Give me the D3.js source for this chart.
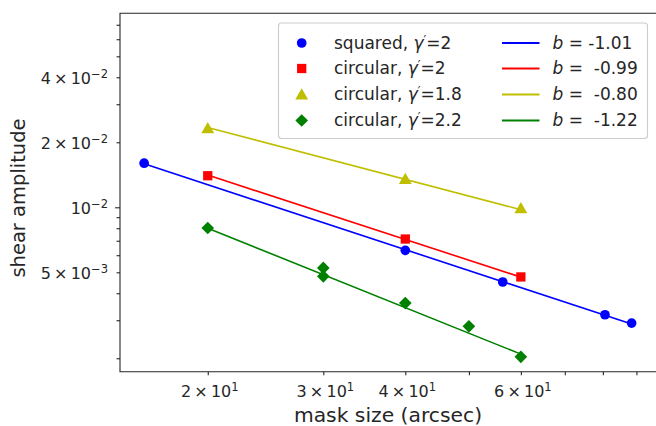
<!DOCTYPE html>
<meta charset="utf-8">
<style>
  body { margin: 0; background: #fff; }
  svg { font-family: "DejaVu Sans", sans-serif; }
  .spine { stroke: #262626; stroke-width: 1.1; fill: none; }
  .tick line { stroke: #262626; stroke-width: 1.1; }
  text { fill: #262626; white-space: pre; }
</style>
<body>
<script src="https://cdn.jsdelivr.net/npm/d3@7"></script>
<script>
  // measured points (mask size in arcsec, shear amplitude)
  var squaredX = [16, 40, 56.3, 80.6, 88.5];
  var squaredY = [0.0160, 0.00632, 0.00451, 0.00318, 0.00291];
  var circ20X = [20, 40, 60];
  var circ20Y = [0.0140, 0.00713, 0.00476];
  var circ18X = [20, 40, 60];
  var circ18Y = [0.0232, 0.01352, 0.00989];
  var circ22X = [20, 30, 30, 40, 50, 60];
  var circ22Y = [0.00802, 0.00524, 0.00479, 0.00360, 0.00281, 0.00203];

  // fitted power-law lines, end points
  var fitSquaredX = [16, 88.5], fitSquaredY = [0.0159, 0.00288];
  var fit20X = [20, 60], fit20Y = [0.0141, 0.00475];
  var fit18X = [20, 60], fit18Y = [0.0234, 0.00975];
  var fit22X = [20, 60], fit22Y = [0.0080, 0.00209];

  var seriesLabels = ["squared, ", "circular, ", "circular, ", "circular, "];
  var gammaValues = ["2", "2", "1.8", "2.2"];
  var slopeLabels = ["= -1.01", "=  -0.99", "=  -0.80", "=  -1.22"];

  var xTicks = [20, 30, 40, 50, 60, 70, 80, 90];
  var xLabeled = { 20: "2", 30: "3", 40: "4", 60: "6" };
  var yTicks = [0.002, 0.003, 0.004, 0.005, 0.006, 0.007, 0.008, 0.009, 0.01,
                0.02, 0.03, 0.04, 0.05, 0.06, 0.07];
  var yLabeled = { 0.005: ["5\u2009×\u200910", "−3"], 0.01: ["10", "−2"],
                   0.02: ["2\u2009×\u200910", "−2"], 0.04: ["4\u2009×\u200910", "−2"] };

  var W = 656, H = 426;
  var plotL = 120, plotR = 656, plotT = 13.3, plotB = 371.7;

  var x = d3.scaleLog().domain([14.7, 96.4]).range([plotL, plotR]);
  var y = d3.scaleLog().domain([0.001733, 0.0791]).range([plotB, plotT]);

  var colors = ["#0000ff", "#ff0000", "#bfbf00", "#008000"];
  var shapes = [d3.symbolCircle, d3.symbolSquare, d3.symbolTriangle, d3.symbolSquare];

  var svg = d3.select("body").append("svg").attr("width", W).attr("height", H);

  // ticks
  var xAxis = svg.append("g").attr("transform", "translate(0," + plotB + ")")
    .call(d3.axisBottom(x).tickValues(xTicks).tickFormat("").tickSizeOuter(0).tickSize(3.5));
  xAxis.select(".domain").remove();
  xAxis.selectAll(".tick text").remove();

  var yAxis = svg.append("g").attr("transform", "translate(" + plotL + ",0)")
    .call(d3.axisLeft(y).tickValues(yTicks).tickFormat("").tickSizeOuter(0).tickSize(3.5));
  yAxis.select(".domain").remove();
  yAxis.selectAll(".tick text").remove();
  yAxis.selectAll(".tick line").attr("x2", d => d === 0.01 ? -4.9 : -3.5);

  // tick labels
  xTicks.filter(d => xLabeled[d]).forEach(function (d) {
    var t = svg.append("text").attr("x", x(d) + 2).attr("y", 397)
      .attr("text-anchor", "middle").style("font-size", "16px");
    t.append("tspan").text(xLabeled[d] + "\u2009×\u200910");
    t.append("tspan").attr("dy", -6.5).style("font-size", "11.5px").text("1");
  });
  yTicks.filter(d => yLabeled[d]).forEach(function (d) {
    var t = svg.append("text").attr("x", 108).attr("y", y(d) + 7)
      .attr("text-anchor", "end").style("font-size", "16px");
    t.append("tspan").text(yLabeled[d][0]);
    t.append("tspan").attr("dy", -6.5).style("font-size", "11.5px").text(yLabeled[d][1]);
  });

  // spines
  svg.append("path").attr("class", "spine")
    .attr("d", "M" + plotR + "," + plotT + "H" + plotL + "V" + plotB + "H" + plotR);

  // axis labels
  svg.append("text").attr("x", (plotL + plotR) / 2).attr("y", 421.5)
    .attr("text-anchor", "middle").style("font-size", "20.3px").text("mask size (arcsec)");
  svg.append("text").attr("transform", "translate(25,198) rotate(-90)")
    .attr("text-anchor", "middle").style("font-size", "19.5px").text("shear amplitude");

  // fit lines
  var line = d3.line().x(d => x(d[0])).y(d => y(d[1]));
  var fits = [[fitSquaredX, fitSquaredY], [fit20X, fit20Y], [fit18X, fit18Y], [fit22X, fit22Y]];
  fits.forEach(function (f, i) {
    svg.append("path").datum(d3.zip(f[0], f[1])).attr("d", line)
      .attr("fill", "none").attr("stroke", colors[i]).attr("stroke-width", 1.6);
  });

  // markers
  var sizes = [74, 86, 72, 80];
  var pts = [[squaredX, squaredY], [circ20X, circ20Y], [circ18X, circ18Y], [circ22X, circ22Y]];
  function marker(g, i, px, py) {
    var off = i === 2 ? 1.2 : 0;
    g.append("path").attr("d", d3.symbol().type(shapes[i]).size(sizes[i])())
      .attr("transform", "translate(" + px + "," + (py + off) + ")" + (i === 3 ? " rotate(45)" : ""))
      .attr("fill", colors[i]);
  }
  pts.forEach(function (p, i) {
    d3.zip(p[0], p[1]).forEach(function (d) { marker(svg, i, x(d[0]), y(d[1])); });
  });

  // legend
  var leg = svg.append("g");
  leg.append("rect").attr("x", 278.5).attr("y", 23).attr("width", 369).attr("height", 115.5)
    .attr("rx", 3).attr("fill", "#fff").attr("fill-opacity", 0.8)
    .attr("stroke", "#cccccc").attr("stroke-width", 1.1);
  var rows = [43, 68.5, 94.5, 120.5];
  rows.forEach(function (ry, i) {
    marker(leg, i, 301.7, ry);
    var t = leg.append("text").attr("x", 334).attr("y", ry + 5.8).style("font-size", "17px");
    t.append("tspan").text(seriesLabels[i]);
    t.append("tspan").style("font-style", "italic").text("γ");
    t.append("tspan").attr("dy", -5).style("font-size", "12px").text("′");
    t.append("tspan").attr("dy", 5).text("=" + gammaValues[i]);

    leg.append("line").attr("x1", 502).attr("x2", 539.5).attr("y1", ry).attr("y2", ry)
      .attr("stroke", colors[i]).attr("stroke-width", 2);
    var s = leg.append("text").attr("x", 552.5).attr("y", ry + 5.8).style("font-size", "17px");
    s.append("tspan").style("font-style", "italic").text("b");
    s.append("tspan").text(" " + slopeLabels[i]);
  });
</script>
</body>
